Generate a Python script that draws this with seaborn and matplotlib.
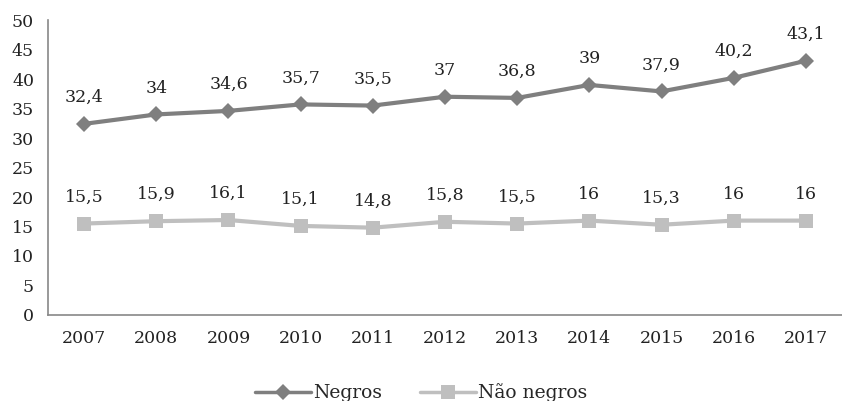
import seaborn as sns
import pandas as pd
import matplotlib.pyplot as plt

anos = ['2007', '2008', '2009', '2010', '2011', '2012', '2013', '2014', '2015', '2016', '2017']
negros = [32.4, 34, 34.6, 35.7, 35.5, 37, 36.8, 39, 37.9, 40.2, 43.1]
nao_negros = [15.5, 15.9, 16.1, 15.1, 14.8, 15.8, 15.5, 16, 15.3, 16, 16]

df = pd.DataFrame({
    'ano': anos * 2,
    'valor': negros + nao_negros,
    'grupo': ['Negros'] * len(anos) + ['Não negros'] * len(anos),
})

sns.set_style('white')
plt.rcParams['font.family'] = ['DejaVu Serif']

fig = plt.figure(figsize=(8.42, 4.01), dpi=100)
ax = fig.add_axes([0.057, 0.2145, 0.943, 0.7355])

cores = {'Negros': '#7f7f7f', 'Não negros': '#bfbfbf'}
marcadores = {'Negros': 'D', 'Não negros': 's'}
tamanhos = {'Negros': 8, 'Não negros': 10}

for grupo in ['Negros', 'Não negros']:
    sub = df[df['grupo'] == grupo]
    sns.lineplot(data=sub, x='ano', y='valor', color=cores[grupo], linewidth=3,
                 marker=marcadores[grupo], markersize=tamanhos[grupo],
                 markeredgewidth=0, label=grupo, ax=ax, sort=False)
    for i, v in enumerate(sub['valor']):
        txt = f'{v:g}'.replace('.', ',')
        ax.annotate(txt, (i, v), xytext=(0, 19), textcoords='offset points',
                    ha='center', va='center', fontsize=12.5, color='#222222')

ax.set_ylim(0, 50)
ax.set_xlim(-0.5, len(anos) - 0.5)
ax.set_yticks(range(0, 51, 5))
ax.set_xticks(range(len(anos)))
ax.set_xticks([i - 0.5 for i in range(len(anos) + 1)], minor=True)
ax.tick_params(axis='x', which='major', length=0, pad=11, labelsize=12.5, labelcolor='#222222')
ax.tick_params(axis='x', which='minor', length=5, color='#888888', width=1)
ax.tick_params(axis='y', length=5, color='#888888', width=1, labelsize=12.5, labelcolor='#222222', pad=5)
ax.set_xlabel('')
ax.set_ylabel('')

for s in ['top', 'right']:
    ax.spines[s].set_visible(False)
for s in ['left', 'bottom']:
    ax.spines[s].set_color('#888888')
    ax.spines[s].set_linewidth(1.2)

handles, labels = ax.get_legend_handles_labels()
ax.get_legend().remove()
leg = fig.legend(handles, labels, loc='center', bbox_to_anchor=(0.5, 0.02), ncol=2, frameon=False,
                 fontsize=13.5, handlelength=3, columnspacing=2, handletextpad=0.1,
                 borderaxespad=0)
for h in leg.legend_handles:
    h.set_linewidth(2.5)

fig.savefig('out.png', dpi=100)
